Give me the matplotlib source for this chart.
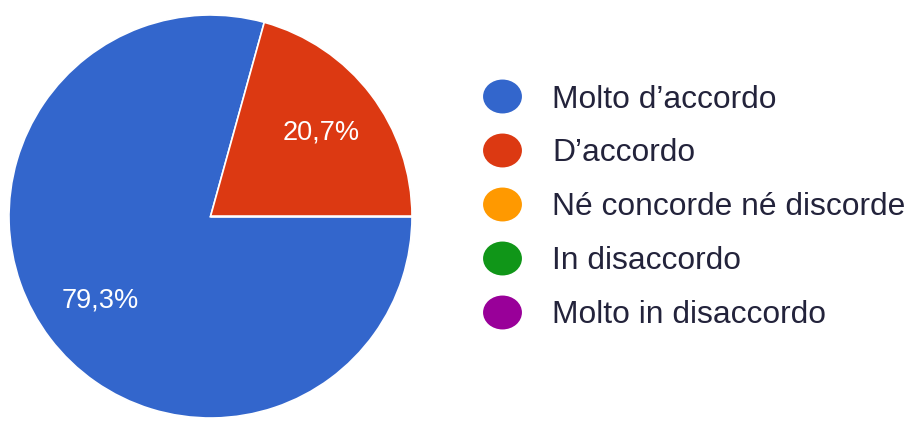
import matplotlib
matplotlib.use('Agg')
import matplotlib.pyplot as plt
import numpy as np
from matplotlib.path import Path
from matplotlib.lines import Line2D

plt.rcParams['font.family'] = ['Liberation Sans', 'DejaVu Sans']

# survey answers and their share of responses (%)
categories = ['Molto d\u2019accordo', 'D\u2019accordo', 'N\u00e9 concorde n\u00e9 discorde',
              'In disaccordo', 'Molto in disaccordo']
shares = [79.3, 20.7, 0.0, 0.0, 0.0]
colors = ['#3366CC', '#DC3912', '#FF9900', '#109618', '#990099']


def pct_label(p):
    # Italian decimal comma, nothing for empty slices
    return f'{p:.1f}%'.replace('.', ',') if p > 0.05 else ''


fig = plt.figure(figsize=(9.13, 4.21), dpi=100)
ax = fig.add_axes([9 / 913, 3 / 421, 403 / 913, 403 / 421])
ax.pie(shares, colors=colors, startangle=0, counterclock=False, radius=1.0,
       autopct=pct_label, pctdistance=0.69,
       wedgeprops=dict(edgecolor='white', linewidth=1.2),
       textprops=dict(color='white', fontsize=19.5))
ax.set_xlim(-1, 1)
ax.set_ylim(-1, 1)
ax.set_aspect('equal')

# slightly flattened dot used as legend key
circ = Path.unit_circle()
oval = Path(circ.vertices * np.array([1.0, 34 / 39]), circ.codes)
handles = [Line2D([], [], linestyle='none', marker=oval, markersize=28,
                  markerfacecolor=c, markeredgecolor=c, markeredgewidth=0)
           for c in colors]
leg = fig.legend(handles, categories, loc='upper left',
                 bbox_to_anchor=(482 / 913, (421 - 84.5) / 421),
                 frameon=False, fontsize=22.9, borderpad=0, borderaxespad=0,
                 handlelength=1.25, handletextpad=0.95, labelspacing=0.75)
for t in leg.get_texts():
    t.set_color('#23233b')

fig.savefig('out.png', dpi=100)
